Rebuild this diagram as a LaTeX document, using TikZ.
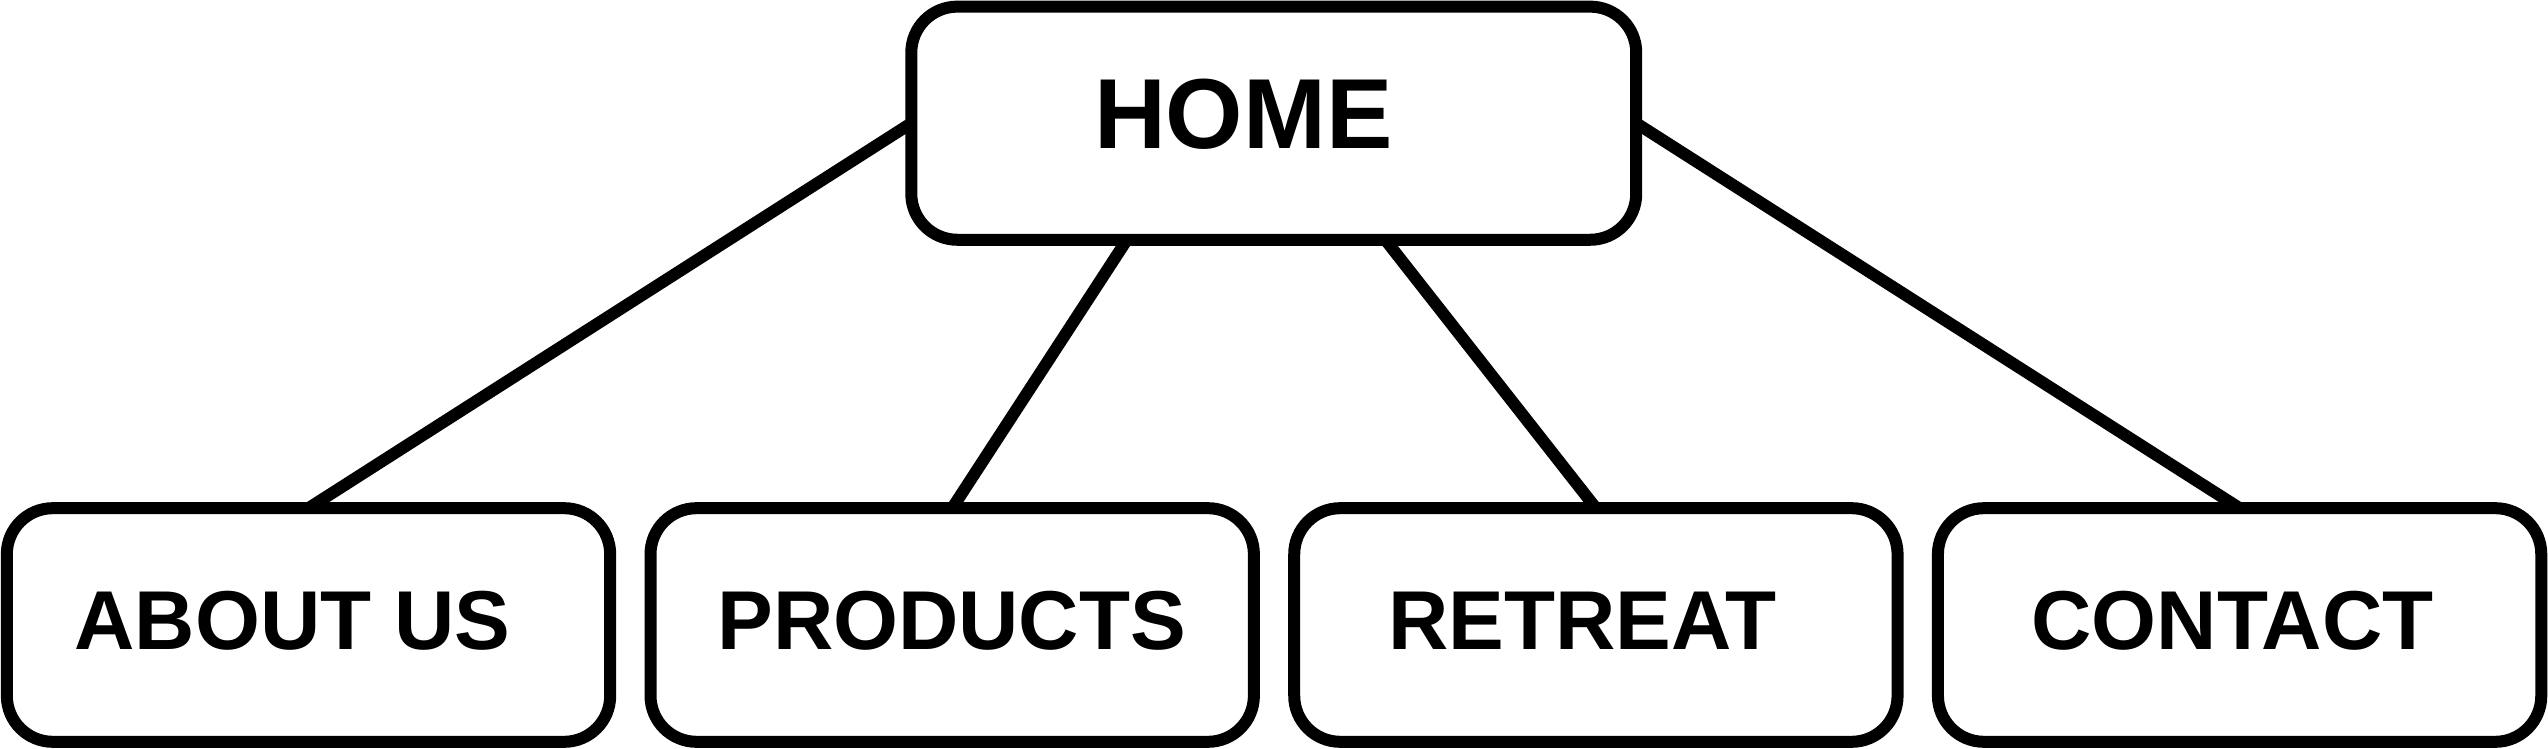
\documentclass[tikz,border=0pt]{standalone}
\usepackage{fontspec}
\setmainfont{Liberation Sans}
\usetikzlibrary{backgrounds}
\begin{document}
\begin{tikzpicture}[x=0.01cm, y=-0.01cm,
  pagebox/.style={draw=black, line width=0.12cm, fill=white, rounded corners=0.46cm,
    minimum width=6.03cm, minimum height=2.335cm, inner sep=0pt, outer sep=0pt},
  homebox/.style={pagebox, minimum width=7.245cm, minimum height=2.33cm},
  lbl/.style={inner sep=0pt, outer sep=0pt, font=\bfseries\fontsize{23.75pt}{23.75pt}\selectfont},
  homelbl/.style={inner sep=0pt, outer sep=0pt, font=\bfseries\fontsize{28.3pt}{28.3pt}\selectfont},
  link/.style={draw=black, line width=0.12cm}]
\useasboundingbox (0,0) rectangle (2548,749);
% boxes
\node[homebox] (home) at (1273.75,123.2) {};
\node[pagebox] (about) at (308.5,625) {};
\node[pagebox] (products) at (952.2,625) {};
\node[pagebox] (retreat) at (1595.9,625) {};
\node[pagebox] (contact) at (2239.6,625) {};
% labels
\node[homelbl] (hometext) at (1243.3,114.5) {HOME};
\node[lbl] (abouttext) at (292.5,621) {ABOUT US};
\node[lbl] (productstext) at (951.7,621) {PRODUCTS};
\node[lbl] (retreattext) at (1582.6,621) {RETREAT};
\node[lbl] (contacttext) at (2232.5,621) {CONTACT};
% connectors
\begin{scope}[on background layer]
\draw[link] (home.west) -- (about.north);
\draw[link] ([xshift=-1.4675cm]home.south) -- (products.north);
\draw[link] ([xshift=1.115cm]home.south) -- (retreat.north);
\draw[link] (home.east) -- (contact.north);
\end{scope}
\end{tikzpicture}
\end{document}
